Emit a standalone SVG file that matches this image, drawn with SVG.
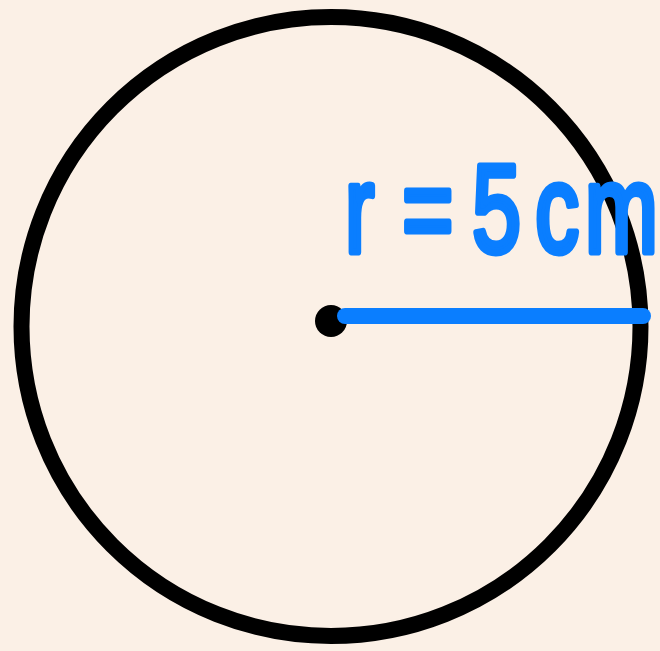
<svg xmlns="http://www.w3.org/2000/svg" width="660" height="651" viewBox="0 0 660 651">
<style>
.blue{fill:#0A7EFF;stroke:#0A7EFF;stroke-width:7;stroke-linejoin:round;stroke-linecap:round;font-family:"Liberation Sans",Arial,sans-serif;font-size:125px}
</style>
<rect width="660" height="651" fill="#FBF0E6"/>
<g id="circle">
<circle cx="331" cy="326.5" r="309.5" fill="none" stroke="#000" stroke-width="16"/>
</g>
<g id="center">
<circle cx="331" cy="321" r="16" fill="#000"/>
</g>
<g id="connectors">
<line x1="345" y1="316" x2="643" y2="316" stroke="#0A7EFF" stroke-width="16" stroke-linecap="round"/>
</g>
<g id="label">
<text class="blue" transform="translate(340,252) scale(0.7,1)" x="7 89 189 279 350">r=5cm</text>
</g>
</svg>
